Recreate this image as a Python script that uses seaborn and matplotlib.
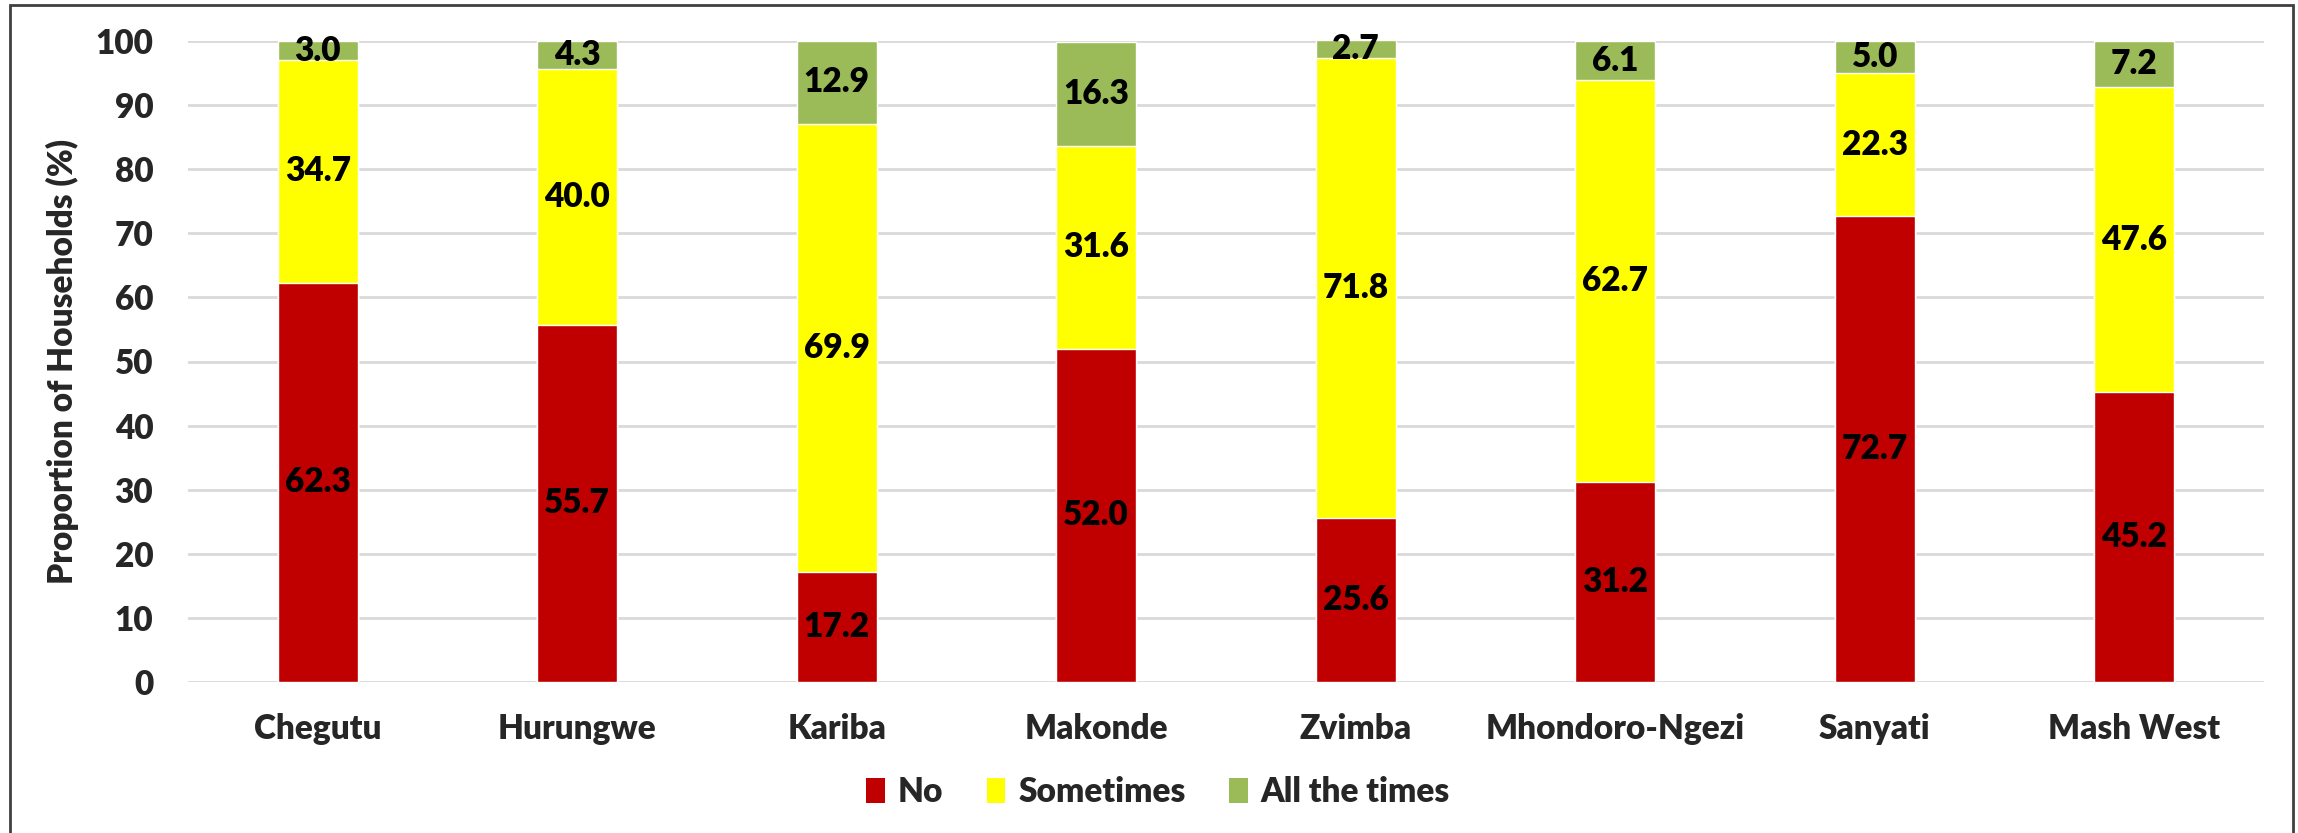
import matplotlib
matplotlib.use("Agg")
import matplotlib.pyplot as plt
from matplotlib.patches import Patch, Rectangle
import numpy as np
import pandas as pd
import seaborn as sns

# Districts and response shares (%)
districts = ["Chegutu", "Hurungwe", "Kariba", "Makonde", "Zvimba",
             "Mhondoro-Ngezi", "Sanyati", "Mash West"]
no_vals = [62.3, 55.7, 17.2, 52.0, 25.6, 31.2, 72.7, 45.2]
sometimes_vals = [34.7, 40.0, 69.9, 31.6, 71.8, 62.7, 22.3, 47.6]
all_times_vals = [3.0, 4.3, 12.9, 16.3, 2.7, 6.1, 5.0, 7.2]
series_names = ["No", "Sometimes", "All the times"]
series_colors = ["#C00000", "#FFFF00", "#9BBB59"]
y_ticks = list(range(0, 101, 10))

sns.set_theme(style="white")
plt.rcParams["font.family"] = ["Lato", "DejaVu Sans"]
WEIGHT = "heavy"
FS = 24
plt.rcParams["font.weight"] = WEIGHT

df = pd.DataFrame({
    "district": districts,
    "No": no_vals,
    "Sometimes": sometimes_vals,
    "All the times": all_times_vals,
})
stack = df[series_names].to_numpy()
cum = np.cumsum(stack, axis=1)

fig = plt.figure(figsize=(22.98, 8.33), dpi=100)
ax = fig.add_axes([188 / 2298, 1 - 682 / 833, (2264 - 188) / 2298, (682 - 41) / 833])

# Stacked bars: draw cumulative totals from top segment down
for i in range(len(series_names) - 1, -1, -1):
    sns.barplot(x=df["district"], y=cum[:, i], color=series_colors[i],
                saturation=1, width=0.31, ax=ax, zorder=2)

# Segment value labels
for j in range(len(districts)):
    for i in range(len(series_names)):
        val = stack[j, i]
        center = cum[j, i] - val / 2
        ax.text(j, center, f"{val:.1f}", ha="center", va="center",
                fontsize=FS, fontweight=WEIGHT, color="black", zorder=3)

ax.set_ylim(0, 100)
ax.set_xlim(-0.5, len(districts) - 0.5)
ax.set_yticks(y_ticks)
ax.yaxis.grid(True, color="#D9D9D9", linewidth=2, zorder=0)
ax.set_axisbelow(True)
for s in ax.spines.values():
    s.set_visible(False)
ax.tick_params(axis="both", length=0, labelsize=FS)
ax.tick_params(axis="y", pad=25)
ax.tick_params(axis="x", pad=22)
for lab in ax.get_xticklabels() + ax.get_yticklabels():
    lab.set_fontweight(WEIGHT)
ax.set_xlabel("")
ax.set_ylabel("Proportion of Households (%)", fontsize=FS, fontweight=WEIGHT, labelpad=12)

handles = [Patch(facecolor=c, edgecolor="none") for c in series_colors]
fig.legend(handles, series_names, loc="center", bbox_to_anchor=(0.504, 0.049),
           ncol=3, frameon=False, handlelength=0.55, handleheight=0.75,
           handletextpad=0.4, columnspacing=1.3, prop={"weight": WEIGHT, "size": FS})

# Outer frame
fig.patches.append(Rectangle((10 / 2298, -0.02), (2293 - 10) / 2298, 1.02 - 5 / 833,
                             transform=fig.transFigure, fill=False,
                             edgecolor="#404040", linewidth=2))

fig.savefig("out.png", dpi=100)
